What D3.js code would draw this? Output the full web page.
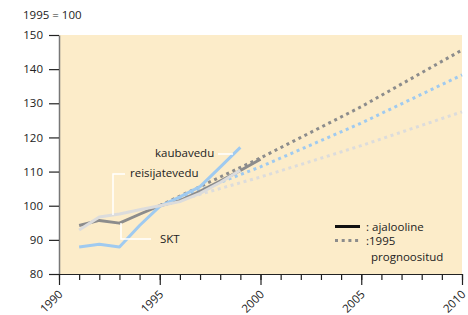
<!DOCTYPE html>
<html>
<head>
<meta charset="utf-8">
<script src="https://cdn.jsdelivr.net/npm/d3@7"></script>
<style>
  body { margin: 0; background: #fff; }
  svg text { font-family: "Open Sans", "DejaVu Sans", sans-serif; fill: #222; }
</style>
</head>
<body>
<div id="chart"></div>
<script>
// historical values (index, 1995 = 100)
const histYears = [1991, 1992, 1993, 1994, 1995, 1996, 1997, 1998, 1999, 2000];
const sktHist = [94.2, 95.7, 94.9, 97.5, 100, 101.5, 104.2, 107.2, 110.3, 113.6];
const kaubaYears = [1991, 1992, 1993, 1994, 1995, 1996, 1997, 1998, 1999];
const kaubaHist = [87.9, 88.7, 87.9, 94.2, 99.8, 102.6, 105.6, 111.3, 117.1];
const reisiYears = [1991, 1992, 1993, 1994, 1995, 1996, 1997, 1998, 1999];
const reisiHist = [92.9, 96.7, 97.6, 98.8, 100, 101.2, 103.6, 106.8, 110.4];

// 1995 forecasts
const fcYears = [1995, 2000, 2005, 2010];
const sktFc = [100, 114, 129, 145.6];
const kaubaFc = [100, 111.4, 124.2, 138.3];
const reisiFc = [100, 108.4, 117.6, 127.5];

const yTicks = [80, 90, 100, 110, 120, 130, 140, 150];
const xMajor = [1990, 1995, 2000, 2005, 2010];

const width = 468, height = 315;
const margin = {top: 35, right: 6, bottom: 41, left: 59};

const svg = d3.select('#chart').append('svg')
    .attr('width', width)
    .attr('height', height);

const x = d3.scaleLinear().domain([1990, 2010]).range([margin.left, width - margin.right]);
const y = d3.scaleLinear().domain([80, 150]).range([height - margin.bottom, margin.top]);

// plot background
svg.append('rect')
    .attr('x', x(1990)).attr('y', y(150))
    .attr('width', x(2010) - x(1990)).attr('height', y(80) - y(150))
    .attr('fill', '#fcecc9');

// unit label
svg.append('text')
    .attr('x', 23).attr('y', 19)
    .attr('font-size', 11.5)
    .text('1995 = 100');

// y axis
const yAxis = svg.append('g')
    .attr('transform', `translate(${margin.left},0)`)
    .call(d3.axisLeft(y).tickValues(yTicks).tickSize(10).tickSizeOuter(0).tickPadding(6));
yAxis.select('.domain').attr('stroke', '#777').attr('stroke-width', 1.5);
yAxis.selectAll('.tick line').attr('stroke', '#222').attr('stroke-width', 1.2);
yAxis.selectAll('.tick text').attr('font-size', 11.5).style('font-family', '"Open Sans", sans-serif').attr('fill', '#222');

// x axis: minor yearly ticks, then major ticks with labels
const allYears = d3.range(1990, 2011);
const xMinor = svg.append('g')
    .attr('transform', `translate(0,${y(80)})`)
    .call(d3.axisBottom(x).tickValues(allYears).tickSize(6).tickSizeOuter(0).tickFormat(''));
xMinor.select('.domain').attr('stroke', '#222').attr('stroke-width', 1.2);
xMinor.selectAll('.tick line').attr('stroke', '#222').attr('stroke-width', 1.2);

const xAxis = svg.append('g')
    .attr('transform', `translate(0,${y(80)})`)
    .call(d3.axisBottom(x).tickValues(xMajor).tickSize(11).tickSizeOuter(0).tickFormat(d3.format('d')));
xAxis.select('.domain').remove();
xAxis.selectAll('.tick line').attr('stroke', '#222').attr('stroke-width', 1.2);
xAxis.selectAll('.tick text')
    .attr('font-size', 11.5)
    .style('font-family', '"Open Sans", sans-serif')
    .attr('fill', '#222')
    .attr('text-anchor', 'end')
    .attr('dy', null)
    .attr('y', 0)
    .attr('transform', 'translate(4,21) rotate(-45)');

const line = d3.line().x(d => x(d[0])).y(d => y(d[1]));
const zip = (a, b) => a.map((v, i) => [v, b[i]]);

const colors = {skt: '#8c8c8c', kauba: '#9fcaf0', reisi: '#dcdcdc'};

// forecasts (dotted)
[[reisiFc, colors.reisi], [kaubaFc, colors.kauba], [sktFc, colors.skt]].forEach(([vals, c]) => {
    svg.append('path')
        .attr('d', line(zip(fcYears, vals)))
        .attr('fill', 'none')
        .attr('stroke', c)
        .attr('stroke-width', 3)
        .attr('stroke-dasharray', '3,3.7');
});

// historical (solid)
[[histYears, sktHist, colors.skt], [kaubaYears, kaubaHist, colors.kauba], [reisiYears, reisiHist, colors.reisi]].forEach(([yrs, vals, c]) => {
    svg.append('path')
        .attr('d', line(zip(yrs, vals)))
        .attr('fill', 'none')
        .attr('stroke', c)
        .attr('stroke-width', 3)
        .attr('stroke-linejoin', 'round');
});

// series labels with white leaders
const leaders = [
    [[218, 154], [233, 154]],
    [[125, 174], [113, 174], [113, 215]],
    [[121, 223], [121, 239], [151, 239]]
];
leaders.forEach(pts => {
    svg.append('path')
        .attr('d', d3.line()(pts))
        .attr('fill', 'none')
        .attr('stroke', '#fff')
        .attr('stroke-width', 1.5);
});
svg.append('text').attr('x', 155).attr('y', 157).attr('font-size', 11.5).text('kaubavedu');
svg.append('text').attr('x', 130).attr('y', 177).attr('font-size', 11.5).text('reisijatevedu');
svg.append('text').attr('x', 160).attr('y', 243).attr('font-size', 11.5).text('SKT');

// legend
const lg = svg.append('g');
lg.append('line').attr('x1', 335).attr('x2', 360).attr('y1', 226.5).attr('y2', 226.5)
    .attr('stroke', '#111').attr('stroke-width', 3);
lg.append('text').attr('x', 366).attr('y', 231).attr('font-size', 11.5).text(': ajalooline');
lg.append('line').attr('x1', 335).attr('x2', 360).attr('y1', 240.5).attr('y2', 240.5)
    .attr('stroke', colors.skt).attr('stroke-width', 3).attr('stroke-dasharray', '3,3.7');
lg.append('text').attr('x', 366).attr('y', 245).attr('font-size', 11.5).text(':1995');
lg.append('text').attr('x', 371).attr('y', 261).attr('font-size', 11.5).text('prognoositud');
</script>
</body>
</html>
